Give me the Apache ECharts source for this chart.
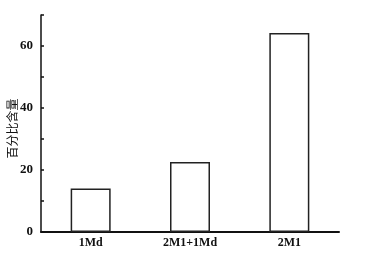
<!DOCTYPE html>
<html><head><meta charset="utf-8">
<script src="https://cdn.jsdelivr.net/npm/echarts@6/dist/echarts.min.js"></script>
<style>html,body{margin:0;padding:0;background:#fff}#c{width:368px;height:259px}</style>
</head><body><div id="c"></div>
<script>
const categories = ['1Md', '2M1+1Md', '2M1'];
const values = [14, 22.6, 64.2];
const yTicks = [0, 20, 40, 60];
const yName = '百分比含量';

const chart = echarts.init(document.getElementById('c'), null, {renderer: 'canvas'});
chart.setOption({
  animation: false,
  grid: {left: 41, right: 29, top: 15, bottom: 27, containLabel: false, outerBoundsMode: 'none'},
  xAxis: {
    type: 'category', data: categories,
    axisLine: {lineStyle: {color: '#111', width: 2}},
    axisTick: {show: false},
    axisLabel: {color: '#111', fontFamily: 'Liberation Serif', fontWeight: 'bold', fontSize: 12, margin: 5}
  },
  yAxis: {
    type: 'value', min: 0, max: 70, interval: 10,
    name: yName, nameLocation: 'middle', nameGap: 23, nameRotate: 90, nameMoveOverlap: false,
    nameTextStyle: {color: '#111', fontFamily: 'Noto Sans CJK SC', fontSize: 12, padding: [0, 10, 0, 0]},
    axisLine: {show: true, lineStyle: {color: '#111', width: 1.5}},
    axisTick: {show: true, inside: true, length: 3, lineStyle: {color: '#111', width: 1.5}},
    splitLine: {show: false},
    axisLabel: {color: '#111', fontFamily: 'Liberation Serif', fontWeight: 'bold', fontSize: 13, margin: 8,
      formatter: v => yTicks.includes(v) ? String(v) : ''}
  },
  series: [{
    type: 'bar', data: values, barWidth: 40,
    itemStyle: {color: '#fff', borderColor: '#222', borderWidth: 1.5}
  }]
});
</script></body></html>
